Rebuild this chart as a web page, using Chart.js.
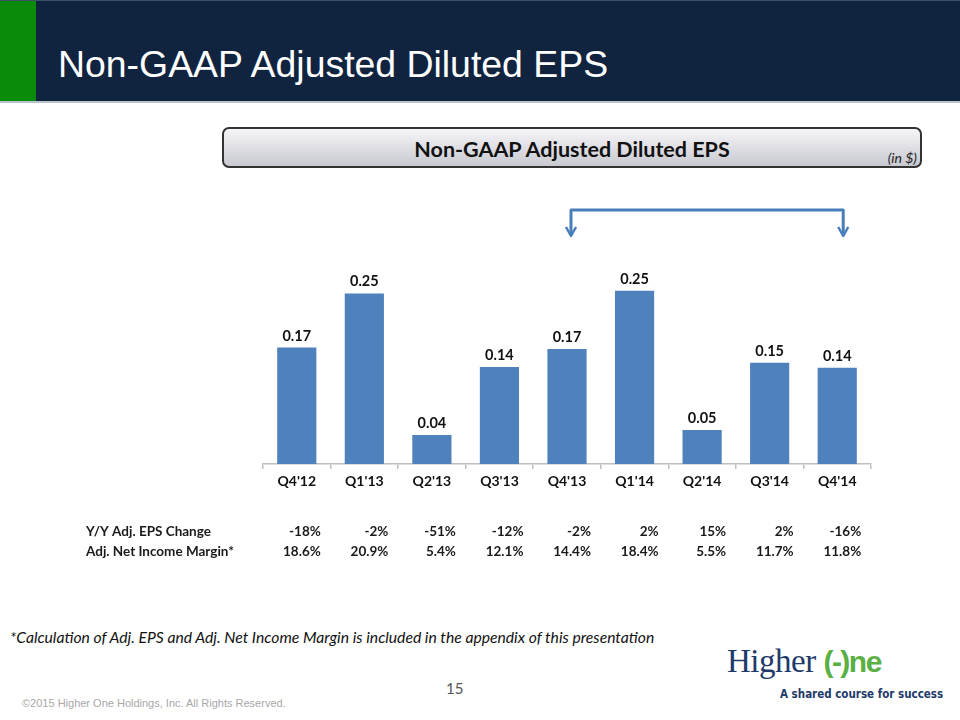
<!DOCTYPE html>
<html>
<head>
<meta charset="utf-8">
<script src="https://cdn.jsdelivr.net/npm/chart.js@4/dist/chart.umd.min.js"></script>
<style>
  body { margin:0; width:960px; height:720px; position:relative; background:#fff; overflow:hidden; }
  #header { position:absolute; left:0; top:0; width:960px; height:103px; background:#10243f; border-top:1px solid #3c5068; border-bottom:2px solid #b9c3cf; box-sizing:border-box; }
  #green { position:absolute; left:0; top:0; width:36px; height:100%; background:#0a8c0a; }
  #title { position:absolute; left:58px; top:42px; font:37.4px "Liberation Sans", Arial, sans-serif; color:#fff; white-space:nowrap; }
  #subbox { position:absolute; left:222px; top:127px; width:700px; height:41px; box-sizing:border-box;
            border:2px solid #333; border-radius:7px;
            background:linear-gradient(#f6f6f9, #dcdce2 55%, #c9cad1); }
  #subtitle { position:absolute; left:0; right:0; top:7px; text-align:center; font:bold 21.5px Lato, sans-serif; color:#111; }
  #inusd { position:absolute; right:3px; top:20px; font:italic 14px Lato, sans-serif; color:#222; }
  #chartwrap { position:absolute; left:0; top:180px; width:960px; height:400px; }
  #foot { position:absolute; left:10px; top:628px; font:italic 15.7px Lato, sans-serif; color:#111; white-space:nowrap; }
  #page { position:absolute; left:446px; top:679px; font:15px Lato, sans-serif; color:#555; }
  #copy { position:absolute; left:22px; top:697px; font:11px "Liberation Sans", Arial, sans-serif; color:#a8a8a8; }
  #logo1 { position:absolute; left:727px; top:643px; font:33px "Liberation Serif", serif; color:#1e3a6b; letter-spacing:-0.5px; white-space:nowrap; }
  #logo1 span { color:#5bb043; font-family:"Liberation Sans", sans-serif; font-weight:bold; font-size:30px; letter-spacing:-1.5px; }
  #logo2 { position:absolute; left:780px; top:687px; font:bold 11.5px "DejaVu Sans Condensed", "DejaVu Sans", sans-serif; color:#1e3a6b; white-space:nowrap; }
</style>
</head>
<body>
<div id="header"><div id="green"></div><div id="title">Non-GAAP Adjusted Diluted EPS</div></div>
<div id="subbox"><div id="subtitle">Non-GAAP Adjusted Diluted EPS</div><div id="inusd">(in $)</div></div>
<div id="chartwrap"><canvas id="eps-chart" width="960" height="400"></canvas></div>
<div id="foot">*Calculation of Adj. EPS and Adj. Net Income Margin is included in the appendix of this presentation</div>
<div id="page">15</div>
<div id="copy">©2015 Higher One Holdings, Inc. All Rights Reserved.</div>
<div id="logo1">Higher <span>(-)ne</span></div>
<div id="logo2">A shared course for success</div>

<script>
// quarters and adjusted EPS
var quarters = ["Q4'12", "Q1'13", "Q2'13", "Q3'13", "Q4'13", "Q1'14", "Q2'14", "Q3'14", "Q4'14"];
var eps = [0.168, 0.246, 0.042, 0.140, 0.166, 0.250, 0.049, 0.146, 0.139];

// table rows under the chart
var yoyChange = ["-18%", "-2%", "-51%", "-12%", "-2%", "2%", "15%", "2%", "-16%"];
var netMargin = ["18.6%", "20.9%", "5.4%", "12.1%", "14.4%", "18.4%", "5.5%", "11.7%", "11.8%"];
var rowNames = ["Y/Y Adj. EPS Change", "Adj. Net Income Margin*"];

// bracket from Q4'13 to Q4'14
var bracketFrom = 4, bracketTo = 8;

var labelFont = "bold 14.5px Lato, sans-serif";

// draws value labels, the bracket and the table rows
var extras = {
  id: 'extras',
  afterDatasetsDraw: function (chart) {
    var ctx = chart.ctx;
    var meta = chart.getDatasetMeta(0);
    ctx.save();
    ctx.font = labelFont;
    ctx.fillStyle = "#111";
    ctx.textAlign = "center";
    ctx.textBaseline = "alphabetic";
    meta.data.forEach(function (bar, i) {
      ctx.fillText(eps[i].toFixed(2), bar.x, bar.y - 7);
    });
    ctx.restore();
  },
  afterDraw: function (chart) {
    var ctx = chart.ctx;
    var x = chart.scales.x;
    ctx.save();

    // bracket arrow
    var x1 = x.getPixelForValue(bracketFrom) + 4;
    var x2 = x.getPixelForValue(bracketTo) + 6;
    var top = 30, bottom = 56;
    ctx.strokeStyle = "#4a7ebb";
    ctx.lineWidth = 3;
    ctx.lineJoin = "round";
    ctx.beginPath();
    ctx.moveTo(x1, bottom - 2);
    ctx.lineTo(x1, top);
    ctx.lineTo(x2, top);
    ctx.lineTo(x2, bottom - 2);
    ctx.stroke();
    ctx.lineWidth = 2.5;
    [x1, x2].forEach(function (ax) {
      ctx.beginPath();
      ctx.moveTo(ax - 5, bottom - 9);
      ctx.lineTo(ax, bottom);
      ctx.lineTo(ax + 5, bottom - 9);
      ctx.stroke();
    });

    // table
    ctx.font = "bold 13.5px Lato, sans-serif";
    ctx.fillStyle = "#1a1a1a";
    ctx.textBaseline = "alphabetic";
    var rows = [yoyChange, netMargin];
    var rowY = [356, 376];
    rows.forEach(function (row, r) {
      ctx.textAlign = "left";
      ctx.fillText(rowNames[r], 86, rowY[r]);
      ctx.textAlign = "right";
      row.forEach(function (txt, i) {
        ctx.fillText(txt, x.getPixelForValue(i) + 24, rowY[r]);
      });
    });
    ctx.restore();
  }
};

var ctxEps = document.getElementById("eps-chart");
new Chart(ctxEps, {
  type: "bar",
  data: {
    labels: quarters,
    datasets: [{
      data: eps,
      backgroundColor: "#4f81bd",
      borderWidth: 0,
      categoryPercentage: 1.0,
      barPercentage: 0.58
    }]
  },
  options: {
    responsive: false,
    animation: false,
    layout: { padding: { left: 263, right: 89, top: 76, bottom: 80 } },
    plugins: { legend: { display: false }, tooltip: { enabled: false } },
    scales: {
      y: { display: false, min: 0, max: 0.3 },
      x: {
        afterFit: function (s) { s.height = 36; },
        border: { display: true, color: "#bfbfbf", width: 1.5 },
        grid: { display: true, drawOnChartArea: false, drawTicks: true, tickLength: 5, color: "#bfbfbf", lineWidth: 1.5 },
        ticks: { color: "#111", font: { family: "Lato, sans-serif", size: 14, weight: "bold" }, padding: 4, maxRotation: 0 }
      }
    }
  },
  plugins: [extras]
});
</script>
</body>
</html>
